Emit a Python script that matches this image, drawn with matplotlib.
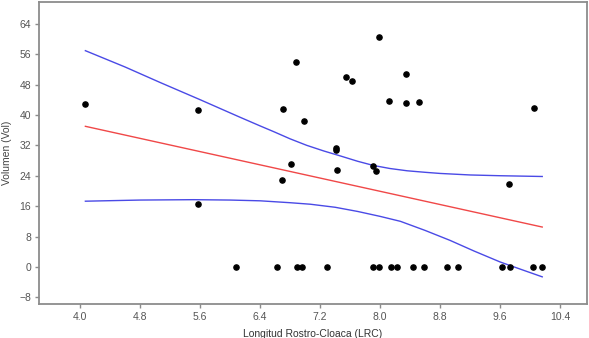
import matplotlib
matplotlib.use("Agg")
from matplotlib import pyplot as plt
import numpy as np

# observations: LRC vs Vol
lrc = [4.06, 5.57, 5.57, 6.70, 6.69, 6.81, 6.88, 6.98, 7.41, 7.41, 7.42,
       7.54, 7.62, 7.90, 7.95, 7.98, 8.12, 8.34, 8.35, 8.52, 9.72, 10.05,
       6.08, 6.63, 6.89, 6.96, 7.29, 7.91, 7.98, 8.14, 8.23, 8.44, 8.58,
       8.89, 9.04, 9.62, 9.73, 10.04, 10.16]
vol = [43.0, 41.3, 16.5, 41.5, 23.0, 27.1, 53.8, 38.3, 31.4, 30.7, 25.4,
       50.1, 48.9, 26.6, 25.2, 60.4, 43.6, 43.2, 50.7, 43.3, 21.8, 41.7,
       0, 0, 0, 0, 0, 0, 0, 0, 0, 0, 0,
       0, 0, 0, 0, 0, 0]

# fitted line (endpoints)
fit_x = [4.07, 10.16]
fit_y = [37.0, 10.5]

# confidence band
upper_x = [4.07, 4.60, 5.07, 5.60, 6.13, 6.40, 6.58, 6.80, 7.02, 7.25, 7.47,
           7.70, 7.91, 8.13, 8.36, 8.60, 8.80, 9.20, 9.60, 10.16]
upper_y = [56.9, 52.6, 48.5, 44.0, 39.4, 37.1, 35.6, 33.7, 32.0, 30.5, 29.2,
           27.8, 26.7, 25.9, 25.3, 24.9, 24.6, 24.2, 24.0, 23.8]
lower_x = [4.07, 4.80, 5.51, 6.00, 6.40, 6.80, 7.07, 7.40, 7.70, 8.00, 8.27,
           8.60, 8.93, 9.25, 9.60, 9.90, 10.16]
lower_y = [17.3, 17.6, 17.7, 17.6, 17.4, 16.9, 16.5, 15.7, 14.6, 13.3, 12.0,
           9.6, 7.0, 4.2, 1.3, -0.8, -2.6]

plt.rcParams['font.family'] = ['Liberation Sans', 'DejaVu Sans']

fig = plt.figure(figsize=(5.89, 3.38), dpi=100)
ax = fig.add_axes([0.066, 0.100, 0.931, 0.894])

ax.plot(upper_x, upper_y, color='#4a4ae6', linewidth=1.0)
ax.plot(lower_x, lower_y, color='#4a4ae6', linewidth=1.0)
ax.plot(fit_x, fit_y, color='#f04848', linewidth=1.0)
ax.scatter(lrc, vol, s=14, color='black', zorder=3)

ax.set_xlim(3.45, 10.76)
ax.set_ylim(-9.8, 69.7)
ax.set_xticks([4.0, 4.8, 5.6, 6.4, 7.2, 8.0, 8.8, 9.6, 10.4])
ax.set_yticks([-8, 0, 8, 16, 24, 32, 40, 48, 56, 64])
ax.set_xticklabels(['4.0', '4.8', '5.6', '6.4', '7.2', '8.0', '8.8', '9.6', '10.4'])

for s in ax.spines.values():
    s.set_color('#8c8c8c')
    s.set_linewidth(1.3)
ax.tick_params(colors='#8c8c8c', labelcolor='#555555', labelsize=7.5,
               length=3, width=1.0, direction='out', pad=2.5)

ax.set_xlabel('Longitud Rostro-Cloaca (LRC)', fontsize=7.5, color='#333333', labelpad=5)
ax.set_ylabel('Volumen (Vol)', fontsize=7.5, color='#444444', labelpad=5)

plt.savefig('out.png', dpi=100)
